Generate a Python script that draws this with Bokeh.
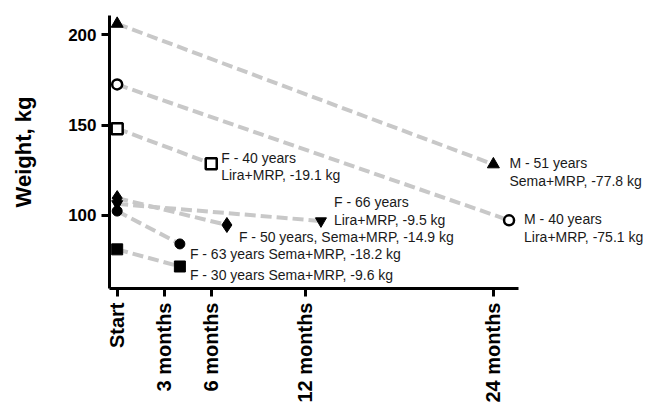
import math
from bokeh.plotting import figure
from bokeh.models import FixedTicker, ColumnDataSource, LabelSet
from bokeh.core.properties import value
from bokeh.embed import file_html
from bokeh.resources import INLINE

# ---- data ----
tick_months = [0, 3, 6, 12, 24]
tick_labels = ["Start", "3 months", "6 months", "12 months", "24 months"]

start_weight = [206.1, 172.5, 148.0, 109.5, 106.3, 102.3, 81.1]
end_weight = [128.2, 97.2, 128.6, 94.6, 96.8, 84.1, 71.6]
end_month = [24, 25, 6, 7, 13, 4, 4]
markers = ["triangle", "circle", "square", "diamond", "inverted_triangle", "circle", "square"]
filled = [True, False, False, True, True, True, True]
labels = [
    "M - 51 years\nSema+MRP, -77.8 kg",
    "M - 40 years\nLira+MRP, -75.1 kg",
    "F - 40 years\nLira+MRP, -19.1 kg",
    "F - 50 years, Sema+MRP, -14.9 kg",
    "F - 66 years\nLira+MRP, -9.5 kg",
    "F - 63 years Sema+MRP, -18.2 kg",
    "F - 30 years Sema+MRP, -9.6 kg",
]
# label placement (screen px offsets from the end point; positive = up)
label_dx = [16, 15, 10, 12, 13, 10, 10]
label_dy = [9, 9, 14, -4, 27, -2, -1]

FONT = "Liberation Sans"

p = figure(width=649, height=405, output_backend="svg", toolbar_location=None,
           x_range=(-0.49, 33.96), y_range=(59.4, 210.7),
           min_border_left=109, min_border_top=15, min_border_right=0, min_border_bottom=117)
p.outline_line_color = None
p.xgrid.visible = False
p.ygrid.visible = False
p.background_fill_color = "white"
p.border_fill_color = "white"

# dashed connectors
seg = ColumnDataSource(dict(x0=[0] * len(start_weight), y0=start_weight, x1=end_month, y1=end_weight))
p.segment(x0="x0", y0="y0", x1="x1", y1="y1", source=seg,
          line_color="#c8c8c8", line_width=4, line_dash="11 5")

sizes = {"triangle": 12, "inverted_triangle": 11, "circle": 10, "square": 11, "diamond": 15}
fills = ["black" if f else "white" for f in filled]
sz = [sizes[m] for m in markers]
lw = [1 if f else 2.5 for f in filled]

pts_start = ColumnDataSource(dict(x=[0] * len(start_weight), y=start_weight, m=markers, f=fills, s=sz, lw=lw))
pts_end = ColumnDataSource(dict(x=end_month, y=end_weight, m=markers, f=fills, s=sz, lw=lw))
for src in (pts_start, pts_end):
    p.scatter(x="x", y="y", marker="m", size="s", fill_color="f", line_color="black",
              line_width="lw", source=src)

lab = ColumnDataSource(dict(x=end_month, y=end_weight, t=labels, dx=label_dx, dy=label_dy))
p.add_layout(LabelSet(x="x", y="y", text="t", x_offset="dx", y_offset="dy", source=lab,
                      text_font=value(FONT), text_font_size="14px", text_color="#1a1a1a",
                      text_baseline="top", text_align="left", text_line_height=1.1))

# axes
for ax in (p.xaxis[0], p.yaxis[0]):
    ax.axis_line_width = 3
    ax.axis_line_color = "black"
    ax.major_tick_line_width = 3
    ax.major_tick_line_color = "black"
    ax.major_tick_out = 8
    ax.major_tick_in = 0
    ax.minor_tick_line_color = None
    ax.major_label_text_font = FONT
    ax.major_label_text_font_style = "bold"
    ax.major_label_text_color = "black"

p.xaxis.bounds = (-0.49, 25.6)
p.xaxis.ticker = FixedTicker(ticks=tick_months)
p.xaxis.major_label_overrides = {m: l for m, l in zip(tick_months, tick_labels)}
p.xaxis.major_label_orientation = math.pi / 2
p.xaxis.major_label_text_font_size = "20px"
p.xaxis.major_label_standoff = 6

p.yaxis.ticker = FixedTicker(ticks=[100, 150, 200])
p.yaxis.major_label_text_font_size = "17px"
p.yaxis.major_label_standoff = 5
p.yaxis.axis_label = "Weight, kg"
p.yaxis.axis_label_text_font = FONT
p.yaxis.axis_label_text_font_style = "bold"
p.yaxis.axis_label_text_font_size = "22px"
p.yaxis.axis_label_text_color = "black"
p.yaxis.axis_label_standoff = 29

open("out.html", "w").write(file_html(p, INLINE))
